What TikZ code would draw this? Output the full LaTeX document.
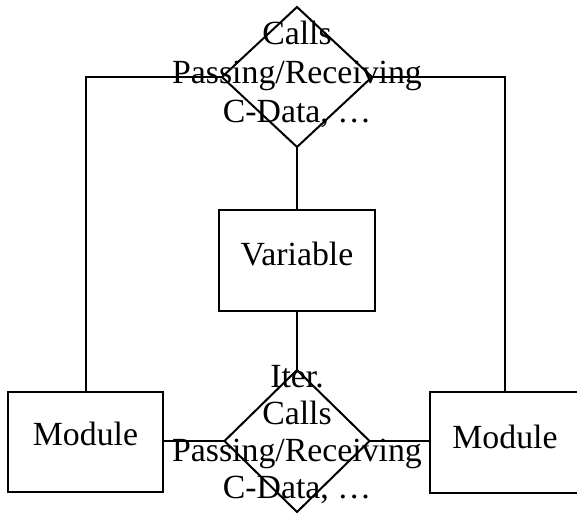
\documentclass[tikz,border=0pt]{standalone}
\usepackage{fontspec}
\setmainfont{Liberation Serif}
\usetikzlibrary{shapes.geometric}
\begin{document}
\begin{tikzpicture}[x=1pt,y=-1pt,
  every node/.style={inner sep=0pt, outer sep=0pt},
  txt/.style={font=\fontsize{33.8}{39}\selectfont, align=center},
  relation/.style={draw, line width=2pt, shape=diamond},
  entity/.style={draw, line width=2pt, shape=rectangle,
    font=\fontsize{33.8}{39}\selectfont, text height=24pt},
  link/.style={line width=2pt}]
\useasboundingbox (0,0) rectangle (577,514);

% relationship diamonds
\node[relation, minimum width=150pt, minimum height=140pt] (topd) at (297,77) {};
\node[relation, minimum width=145pt, minimum height=142pt] (botd) at (297,441) {};

% entity boxes
\node[entity, minimum width=156pt, minimum height=101pt, text depth=15pt] (var) at (297,260.5) {Variable};
\node[entity, minimum width=155pt, minimum height=100pt, text depth=18pt] (lm) at (85.5,442) {Module};
\node[entity, minimum width=150pt, minimum height=101pt, text depth=13pt] (rm) at (505,442.5) {Module};

% connectors
\draw[link] (topd.south) -- (var.north);
\draw[link] (var.south) -- (botd.north);
\draw[link] (topd.west) -| (lm.north);
\draw[link] (topd.east) -| (rm.north);
\draw[link] (botd.west) -- (botd.west -| lm.east);
\draw[link] (botd.east) -- (botd.east -| rm.west);

% relationship labels
\node[txt] (toptext) at (297,74) {Calls\\Passing/Receiving\\C-Data, \dots};
\node[txt, font=\fontsize{33.8}{37}\selectfont] (bottext) at (297,434.5) {Iter.\\Calls\\Passing/Receiving\\C-Data, \dots};
\end{tikzpicture}
\end{document}
